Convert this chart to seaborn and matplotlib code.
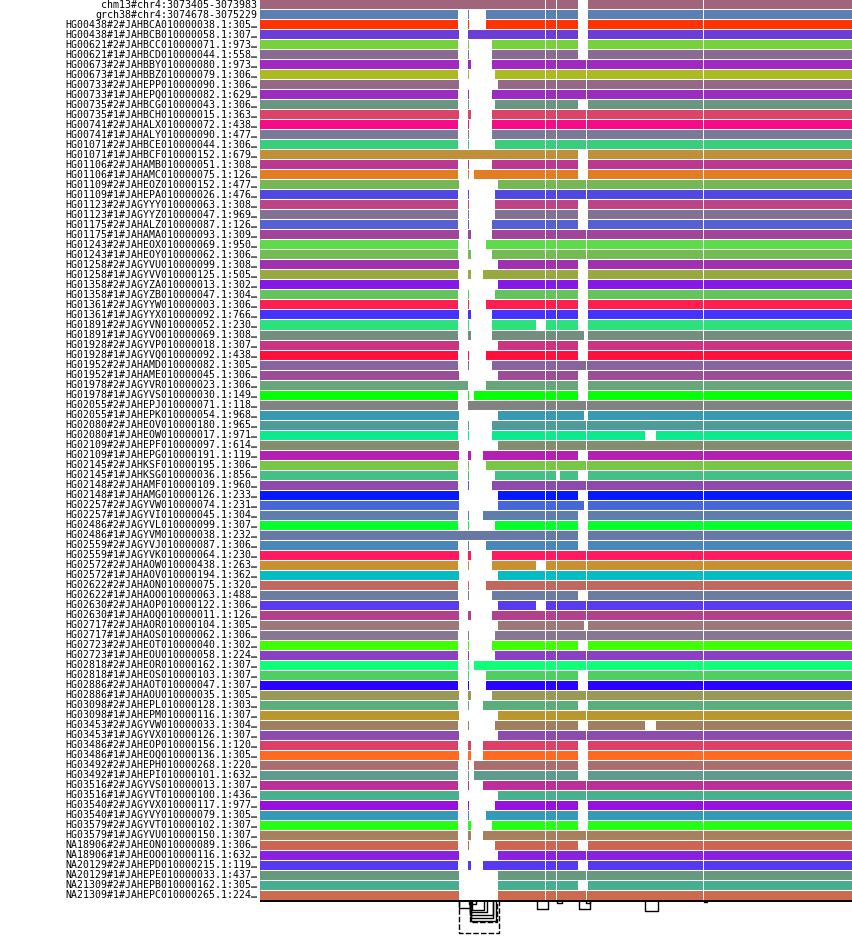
import numpy as np
import matplotlib
matplotlib.use("Agg")
import matplotlib.pyplot as plt
import seaborn as sns
from matplotlib.colors import ListedColormap

# ---------------- data ----------------
path_names = [
    "chm13#chr4:3073405-3073983", "grch38#chr4:3074678-3075229",
    "HG00438#2#JAHBCA010000038.1:305…", "HG00438#1#JAHBCB010000058.1:307…",
    "HG00621#2#JAHBCC010000071.1:973…", "HG00621#1#JAHBCD010000044.1:558…",
    "HG00673#2#JAHBBY010000080.1:973…", "HG00673#1#JAHBBZ010000079.1:306…",
    "HG00733#2#JAHEPP010000090.1:306…", "HG00733#1#JAHEPQ010000082.1:629…",
    "HG00735#2#JAHBCG010000043.1:306…", "HG00735#1#JAHBCH010000015.1:363…",
    "HG00741#2#JAHALX010000072.1:438…", "HG00741#1#JAHALY010000090.1:477…",
    "HG01071#2#JAHBCE010000044.1:306…", "HG01071#1#JAHBCF010000152.1:679…",
    "HG01106#2#JAHAMB010000051.1:308…", "HG01106#1#JAHAMC010000075.1:126…",
    "HG01109#2#JAHEOZ010000152.1:477…", "HG01109#1#JAHEPA010000026.1:476…",
    "HG01123#2#JAGYYY010000063.1:308…", "HG01123#1#JAGYYZ010000047.1:969…",
    "HG01175#2#JAHALZ010000087.1:126…", "HG01175#1#JAHAMA010000093.1:309…",
    "HG01243#2#JAHEOX010000069.1:950…", "HG01243#1#JAHEOY010000062.1:306…",
    "HG01258#2#JAGYVU010000099.1:308…", "HG01258#1#JAGYVV010000125.1:505…",
    "HG01358#2#JAGYZA010000013.1:302…", "HG01358#1#JAGYZB010000047.1:304…",
    "HG01361#2#JAGYYW010000003.1:306…", "HG01361#1#JAGYYX010000092.1:766…",
    "HG01891#2#JAGYVN010000052.1:230…", "HG01891#1#JAGYVO010000069.1:308…",
    "HG01928#2#JAGYVP010000018.1:307…", "HG01928#1#JAGYVQ010000092.1:438…",
    "HG01952#2#JAHAMD010000082.1:305…", "HG01952#1#JAHAME010000045.1:306…",
    "HG01978#2#JAGYVR010000023.1:306…", "HG01978#1#JAGYVS010000030.1:149…",
    "HG02055#2#JAHEPJ010000071.1:118…", "HG02055#1#JAHEPK010000054.1:968…",
    "HG02080#2#JAHEOV010000180.1:965…", "HG02080#1#JAHEOW010000017.1:971…",
    "HG02109#2#JAHEPF010000097.1:614…", "HG02109#1#JAHEPG010000191.1:119…",
    "HG02145#2#JAHKSF010000195.1:306…", "HG02145#1#JAHKSG010000036.1:856…",
    "HG02148#2#JAHAMF010000109.1:960…", "HG02148#1#JAHAMG010000126.1:233…",
    "HG02257#2#JAGYVW010000074.1:231…", "HG02257#1#JAGYVI010000045.1:304…",
    "HG02486#2#JAGYVL010000099.1:307…", "HG02486#1#JAGYVM010000038.1:232…",
    "HG02559#2#JAGYVJ010000087.1:306…", "HG02559#1#JAGYVK010000064.1:230…",
    "HG02572#2#JAHAOW010000438.1:263…", "HG02572#1#JAHAOV010000194.1:362…",
    "HG02622#2#JAHAON010000075.1:320…", "HG02622#1#JAHAOO010000063.1:488…",
    "HG02630#2#JAHAOP010000122.1:306…", "HG02630#1#JAHAOQ010000011.1:126…",
    "HG02717#2#JAHAOR010000104.1:305…", "HG02717#1#JAHAOS010000062.1:306…",
    "HG02723#2#JAHEOT010000040.1:302…", "HG02723#1#JAHEOU010000058.1:224…",
    "HG02818#2#JAHEOR010000162.1:307…", "HG02818#1#JAHEOS010000103.1:307…",
    "HG02886#2#JAHAOT010000047.1:307…", "HG02886#1#JAHAOU010000035.1:305…",
    "HG03098#2#JAHEPL010000128.1:303…", "HG03098#1#JAHEPM010000116.1:307…",
    "HG03453#2#JAGYVW010000033.1:304…", "HG03453#1#JAGYVX010000126.1:307…",
    "HG03486#2#JAHEOP010000156.1:120…", "HG03486#1#JAHEOQ010000136.1:305…",
    "HG03492#2#JAHEPH010000268.1:220…", "HG03492#1#JAHEPI010000101.1:632…",
    "HG03516#2#JAGYVS010000013.1:307…", "HG03516#1#JAGYVT010000100.1:436…",
    "HG03540#2#JAGYVX010000117.1:977…", "HG03540#1#JAGYVY010000079.1:305…",
    "HG03579#2#JAGYVT010000102.1:307…", "HG03579#1#JAGYVU010000150.1:307…",
    "NA18906#2#JAHEON010000089.1:306…", "NA18906#1#JAHEOO010000116.1:632…",
    "NA20129#2#JAHEPD010000215.1:119…", "NA20129#1#JAHEPE010000033.1:437…",
    "NA21309#2#JAHEPB010000162.1:305…", "NA21309#1#JAHEPC010000265.1:224…",
]

path_colors = [
    "#A0657A", "#5A7FB0", "#FF3300", "#6A3ED6", "#76D13B", "#8A6A92",
    "#A02AC0", "#ABBA20", "#946888", "#9A2DC0", "#6A9680", "#DB4468",
    "#F50A88", "#797A96", "#3BCB7D", "#C08F3A", "#BA3891", "#E07E22",
    "#76B755", "#5048E0", "#BB4584", "#807290", "#5660D0", "#A04598",
    "#5EDB48", "#74BB55", "#A030B0", "#9AA840", "#8518E6", "#62C45B",
    "#FF1D51", "#4433FF", "#2BE27A", "#738E7D", "#CB3580", "#FF0F3C",
    "#86659E", "#9B4E96", "#66A67A", "#05FF05", "#828282", "#3899B2",
    "#4E9B9A", "#0CEB8B", "#828E6C", "#B520B2", "#78C644", "#44BF86",
    "#8C4AAE", "#0519FF", "#4767D8", "#607EAA", "#05FF2C", "#6878A6",
    "#4A87B8", "#FF1A60", "#C8902E", "#05BCC4", "#C0685E", "#6C7CA0",
    "#5A3AEE", "#B2408A", "#9C7878", "#887790", "#40FF00", "#8A40C0",
    "#10FF78", "#4DCF63", "#2A00FF", "#979955", "#5BAE7B", "#BA962F",
    "#A07E5E", "#8D4BAE", "#DC4069", "#FF6A20", "#AA6E6E", "#5E9A8E",
    "#BC2F9A", "#48B090", "#9810E0", "#349AB8", "#25FF16", "#A8805E",
    "#CC6650", "#8A20E0", "#5638F0", "#669A7E", "#48AE90", "#CC6A4E",
]

# graph layout: node boundaries (layout bins from the start of the region)
node_edges = [0, 198, 199, 208, 209, 211, 214, 223, 226, 232, 235, 238, 276,
              285, 286, 296, 297, 300, 318, 324, 326, 327, 328, 385, 396,
              443, 444, 592]
# nodes traversed by no path (white separators)
unvisited_nodes = [13, 15, 20, 25]

# end of the first block of each path (285 = path runs through the bubble)
first_block_end = [
    285, 198, 198, 199, 198, 198, 199, 198, 199, 198, 198, 199, 198, 198, 198,
    285, 198, 198, 199, 198, 198, 198, 198, 199, 198, 198, 199, 198, 199, 198,
    198, 199, 198, 198, 199, 198, 198, 199, 208, 198, 198, 199, 198, 198, 199,
    199, 198, 198, 198, 199, 199, 198, 198, 285, 198, 199, 198, 199, 198, 198,
    199, 199, 199, 198, 198, 198, 198, 198, 198, 199, 198, 199, 198, 199, 198,
    199, 198, 198, 198, 199, 198, 198, 198, 198, 198, 199, 198, 199, 199, 199,
]
# end of the small sliver node inside the bubble (0 = no sliver)
sliver_end = [
    0, 209, 209, 0, 209, 209, 211, 209, 0, 209, 209, 211, 209, 209, 209,
    0, 209, 209, 0, 209, 209, 209, 209, 211, 209, 211, 0, 211, 0, 209,
    209, 211, 209, 211, 0, 209, 209, 0, 0, 209, 0, 0, 209, 209, 0,
    211, 209, 209, 209, 0, 0, 209, 209, 0, 209, 211, 209, 0, 209, 209,
    0, 211, 0, 209, 209, 209, 209, 209, 209, 211, 209, 0, 209, 0, 211,
    211, 209, 209, 209, 0, 209, 209, 211, 211, 209, 0, 211, 0, 0, 0,
]
# start of the main block after the bubble
main_block_start = [
    0, 226, 226, 208, 232, 232, 232, 235, 238, 232, 235, 232, 232, 232, 235,
    0, 232, 214, 238, 235, 235, 235, 232, 232, 226, 232, 238, 223, 238, 235,
    226, 232, 232, 232, 238, 226, 232, 238, 226, 214, 208, 238, 232, 232, 238,
    223, 226, 235, 232, 238, 238, 223, 235, 0, 226, 232, 232, 238, 226, 232,
    238, 232, 238, 235, 232, 235, 214, 226, 226, 232, 223, 238, 235, 238, 223,
    223, 214, 214, 223, 238, 235, 226, 232, 223, 235, 238, 223, 238, 238, 238,
]
# end of the middle block (327 = continues through the second bubble)
middle_block_end = [
    318, 318, 318, 318, 318, 318, 327, 327, 327, 327, 318, 327, 327, 327, 327,
    318, 318, 318, 327, 327, 318, 318, 318, 327, 327, 327, 318, 318, 318, 318,
    318, 318, 318, 324, 318, 318, 327, 318, 318, 318, 327, 324, 327, 327, 327,
    318, 327, 318, 327, 318, 324, 318, 318, 318, 318, 327, 327, 327, 327, 318,
    327, 327, 324, 327, 318, 327, 327, 318, 318, 327, 318, 327, 318, 327, 318,
    318, 318, 318, 327, 327, 318, 318, 318, 327, 318, 327, 318, 327, 318, 327,
]
# extra skipped nodes: node index -> paths skipping it
skipped_nodes = {12: [32, 56, 60], 16: [47], 23: [43, 72]}

# graph links drawn under the paths: (from, to, depth)
link_from = [199, 199, 209, 212, 210, 210, 211, 211, 210, 277, 297, 319, 326, 385, 444]
link_to = [239, 210, 216, 224, 227, 233, 233, 236, 237, 288, 302, 330, 330, 398, 447]
link_depth = [33, 8, 4, 10, 12, 15, 18, 21, 22, 9, 3, 9, 3, 11, 1.5]
link_dashed = [True, False, False, False, False, False, False, False, True,
               False, False, False, False, False, False]

# ---------------- build coverage ----------------
n_paths = len(path_names)
n_nodes = len(node_edges) - 1
width = node_edges[-1]
cov = np.zeros((n_paths, n_nodes), dtype=bool)
for i in range(n_paths):
    for k in range(n_nodes):
        s, e = node_edges[k], node_edges[k + 1]
        if e <= 198:
            c = True
        elif e <= 208:
            c = first_block_end[i] >= e
        elif e <= 285:
            c = (first_block_end[i] >= e or (sliver_end[i] >= e and s >= 208)
                 or (main_block_start[i] <= s and main_block_start[i] > 0))
        elif s >= 318 and e <= 328:
            me = middle_block_end[i]
            c = (e <= me) if me < 327 else (s != 326)
        else:
            c = True
        if k in unvisited_nodes:
            c = False
        if i in skipped_nodes.get(k, []):
            c = False
        cov[i, k] = c

mat = np.full((n_paths, width), np.nan)
for i in range(n_paths):
    for k in range(n_nodes):
        if cov[i, k]:
            mat[i, node_edges[k]:node_edges[k + 1]] = i

# ---------------- plot ----------------
sns.set_theme(style="white")
W, H = 852, 938
fig = plt.figure(figsize=(W / 100, H / 100), dpi=100)
ax = fig.add_axes([260 / W, 38 / H, 592 / W, 900 / H])
cmap = ListedColormap(path_colors)
sns.heatmap(mat, ax=ax, cmap=cmap, vmin=-0.5, vmax=n_paths - 0.5, cbar=False,
            mask=np.isnan(mat), xticklabels=False, yticklabels=path_names)
ax.hlines(np.arange(n_paths) + 0.95, 0, width, color="white", lw=0.75)
ax.set_yticklabels(path_names, rotation=0, fontsize=7.1,
                   family="DejaVu Sans Mono", color="black")
ax.tick_params(axis="y", length=0, pad=2)
ax.tick_params(axis="x", length=0)
ax.set_xlabel("")
ax.set_ylabel("")
for sp in ax.spines.values():
    sp.set_visible(False)

lax = fig.add_axes([260 / W, 0, 592 / W, 38 / H])
lax.set_xlim(0, width)
lax.set_ylim(38, 0)
lax.axis("off")
lax.axhline(0.6, color="black", lw=1.4)
for f, t, d, dash in zip(link_from, link_to, link_depth, link_dashed):
    lax.plot([f, f, t, t], [0.5, d, d, 0.5], color="black", lw=1.0,
             ls=(0, (4, 1.5)) if dash else "-")

fig.savefig("out.png", dpi=100)
